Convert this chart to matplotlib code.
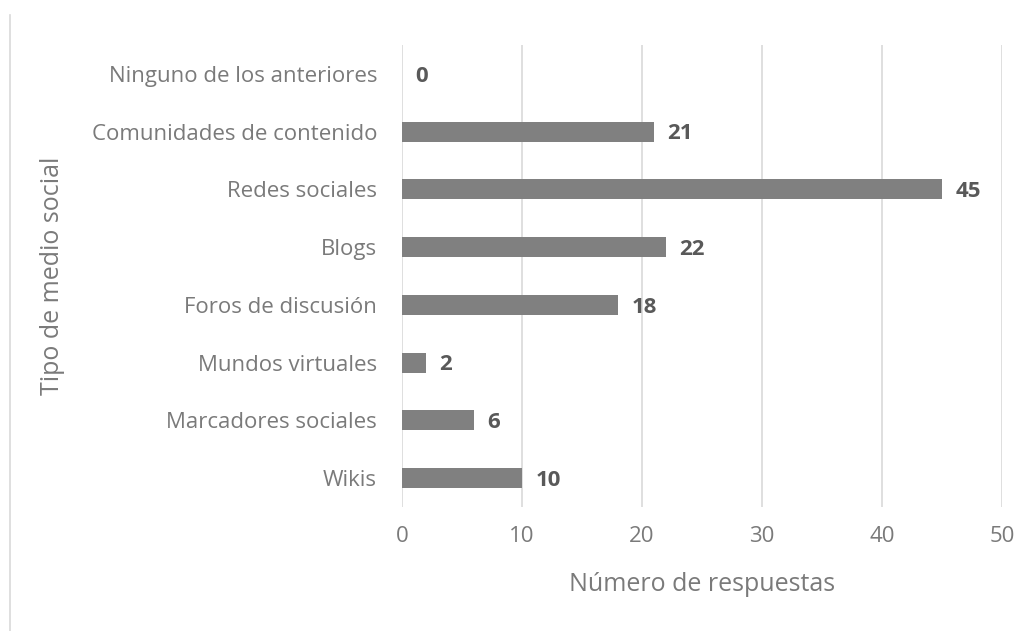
import matplotlib.pyplot as plt
from matplotlib.lines import Line2D

plt.rcParams['font.family'] = ['Open Sans', 'DejaVu Sans']

categorias = ['Wikis', 'Marcadores sociales', 'Mundos virtuales', 'Foros de discusión',
              'Blogs', 'Redes sociales', 'Comunidades de contenido', 'Ninguno de los anteriores']
respuestas = [10, 6, 2, 18, 22, 45, 21, 0]
ticks_x = [0, 10, 20, 30, 40, 50]

gris_texto = '#7a7a7a'
gris_barra = '#808080'

fig = plt.figure(figsize=(10.16, 6.31), dpi=100)
ax = fig.add_axes([0.3957, 0.1965, 0.5905, 0.7322])

pos = range(len(categorias))
ax.barh(pos, respuestas, height=0.35, color=gris_barra, zorder=3)
for p, v in zip(pos, respuestas):
    ax.text(v + 1.1, p - 0.04, str(v), va='center', ha='left', fontsize=16,
            fontweight='bold', color='#595959', zorder=4)

ax.set_xlim(0, 50)
ax.set_ylim(-0.5, len(categorias) - 0.5)
ax.set_xticks(ticks_x)
ax.set_yticks(list(pos))
ax.set_yticklabels(categorias)
ax.tick_params(axis='both', length=0, labelsize=16, colors=gris_texto)
ax.tick_params(axis='x', pad=14)
ax.tick_params(axis='y', pad=18)
ax.grid(axis='x', color='#d9d9d9', linewidth=1.2, zorder=0)
for s in ax.spines.values():
    s.set_visible(False)

ax.set_xlabel('Número de respuestas', fontsize=18, color=gris_texto, labelpad=18)
ax.set_ylabel('Tipo de medio social', fontsize=18, color=gris_texto)
ax.yaxis.set_label_coords(-0.562, 0.5)

# borde izquierdo del área del gráfico
fig.add_artist(Line2D([10 / 1016, 10 / 1016], [0, 1 - 15 / 631],
                      transform=fig.transFigure, color='#d9d9d9', linewidth=1.2))

fig.savefig('out.png', dpi=100)
